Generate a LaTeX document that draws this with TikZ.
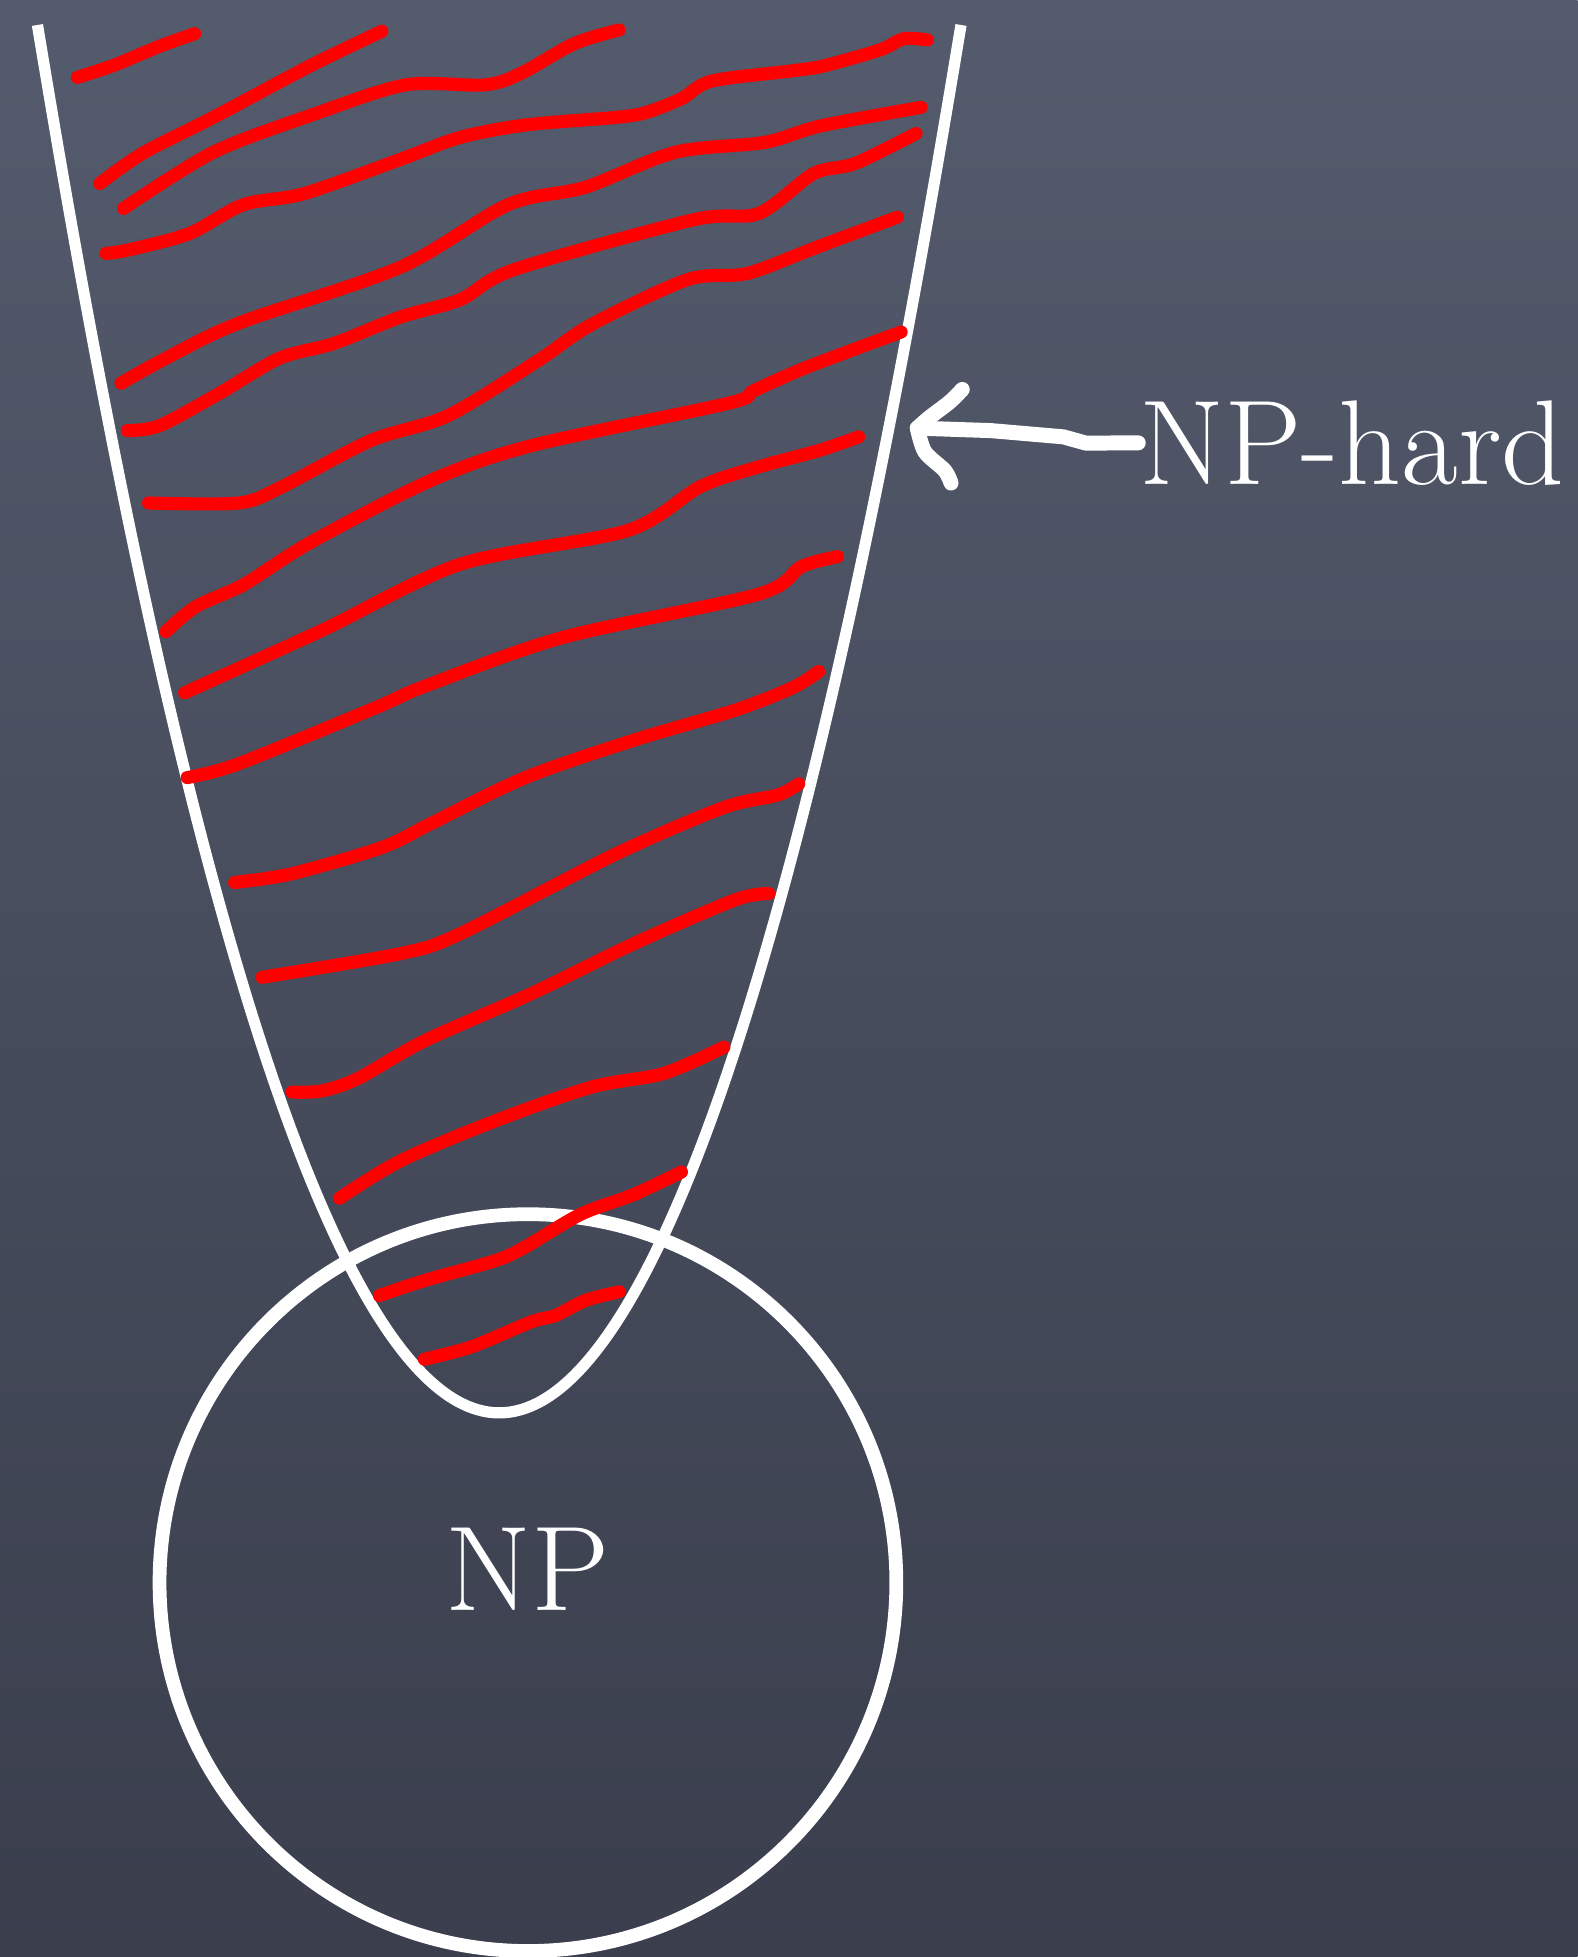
\documentclass[tikz,border=0pt]{standalone}
\usepackage{tikz}
\usetikzlibrary{positioning,arrows.meta}
\usepackage{xcolor}
\definecolor{slatetop}{RGB}{84,91,108}
\definecolor{slatebot}{RGB}{58,62,77}
\definecolor{chalkred}{RGB}{255,0,0}

\begin{document}
\begin{tikzpicture}[x=0.01cm,y=-0.01cm,
  chalk/.style={white,line width=0.09cm,line join=round},
  hatch/.style={chalkred,line width=0.105cm,line cap=round,line join=round},
  chalktext/.style={text=white,inner sep=0pt,font=\fontsize{27.5}{33}\selectfont}]
\shade[top color=slatetop,bottom color=slatebot] (0,0) rectangle (1264,1568);
\useasboundingbox (0,0) rectangle (1264,1568);

% the NP-hard region and NP
\draw[chalk] (30,20) parabola bend (400,1132) (770,20);
\node[circle,draw=white,line width=0.11cm,minimum size=5.9cm,chalktext] (np) at (423,1268) {\raisebox{6pt}{\scalebox{1.03}[1]{NP}}};

% red hatching
\draw[hatch] plot[smooth,tension=0.5] coordinates {(62,62) (92,52) (128,37) (156,27)};
\draw[hatch] plot[smooth,tension=0.5] coordinates {(80,147) (114,123) (171,94) (248,53) (306,25)};
\draw[hatch] plot[smooth,tension=0.5] coordinates {(99,167) (171,122) (253,91) (325,68) (388,68) (417,59) (460,35) (496,24)};
\draw[hatch] plot[smooth,tension=0.5] coordinates {(85,203) (104,200) (152,187) (195,164) (244,155) (320,128) (369,110) (422,100) (494,94) (518,90) (546,79) (570,65) (632,57) (659,53) (705,40) (724,31) (743,32)};
\draw[hatch] plot[smooth,tension=0.5] coordinates {(97,307) (133,287) (191,259) (321,214) (407,164) (469,150) (541,122) (613,114) (657,101) (738,86)};
\draw[hatch] plot[smooth,tension=0.5] coordinates {(102,345) (128,341) (176,315) (224,287) (268,275) (321,254) (369,240) (412,216) (556,176) (608,171) (652,139) (685,131) (734,107)};
\draw[hatch] plot[smooth,tension=0.5] coordinates {(119,403) (191,403) (224,391) (297,353) (359,333) (431,289) (474,260) (551,224) (599,219) (652,199) (719,174)};
\draw[hatch] plot[smooth,tension=0.5] coordinates {(133,506) (157,486) (196,468) (248,435) (345,385) (426,357) (584,323) (604,313) (647,294) (722,266)};
\draw[hatch] plot[smooth,tension=0.5] coordinates {(148,555) (258,505) (369,452) (503,425) (561,390) (608,374) (656,361) (688,350)};
\draw[hatch] plot[smooth,tension=0.5] coordinates {(150,623) (191,612) (301,567) (340,550) (450,511) (608,476) (642,454) (671,446)};
\draw[hatch] plot[smooth,tension=0.5] coordinates {(188,707) (234,700) (306,679) (345,660) (421,623) (508,593) (589,569) (635,551) (656,538)};
\draw[hatch] plot[smooth,tension=0.5] coordinates {(210,783) (321,764) (369,748) (494,684) (580,647) (623,637) (640,628)};
\draw[hatch] plot[smooth,tension=0.5] coordinates {(234,875) (258,874) (287,864) (340,834) (426,796) (508,756) (589,721) (616,716)};
\draw[hatch] plot[smooth,tension=0.5] coordinates {(272,960) (321,930) (397,898) (474,871) (532,860) (580,839)};
\draw[hatch] plot[smooth,tension=0.5] coordinates {(304,1038) (340,1026) (397,1010) (421,999) (465,973) (508,957) (546,939)};
\draw[hatch] plot[smooth,tension=0.5] coordinates {(340,1089) (378,1079) (426,1059) (445,1054) (469,1042) (496,1035)};

% label and hand drawn arrow
\node[chalktext,anchor=base west] (nphard) at (912,388) {\scalebox{1.02}[1]{NP-hard}};
\coordinate (tip) at (735,343);
\draw[chalk,line width=0.12cm,line cap=round] (nphard.west) -- (870,355) -- (852,350) -- (794,345) -- (tip);
\draw[chalk,line width=0.12cm,line cap=round] plot[smooth,tension=0.5] coordinates {(771,312) (761,322) (744,335) (tip)};
\draw[chalk,line width=0.12cm,line cap=round] plot[smooth,tension=0.5] coordinates {(tip) (741,362) (757,377) (762,387)};
\end{tikzpicture}
\end{document}
